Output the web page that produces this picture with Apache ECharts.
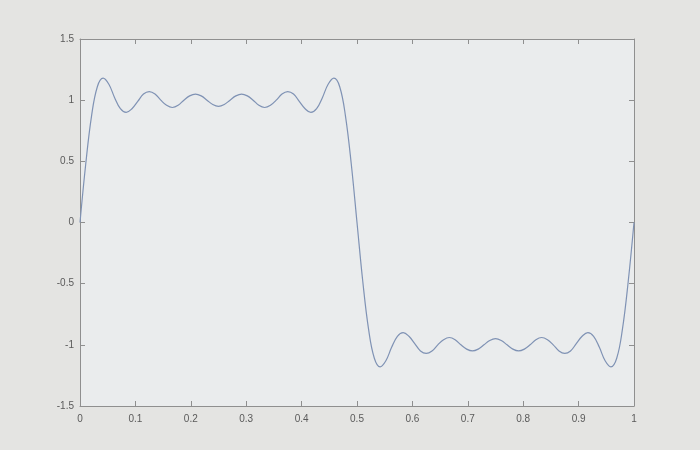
<!DOCTYPE html>
<html>
<head>
<meta charset="utf-8">
<script src="https://cdn.jsdelivr.net/npm/echarts@6/dist/echarts.min.js"></script>
<style>
  html, body { margin: 0; padding: 0; background: #e4e4e2; }
  #chart { width: 700px; height: 450px; }
</style>
</head>
<body>
<div id="chart"></div>
<script>
// sample positions and values
const xs = [0,0.0104,0.0208,0.0313,0.0417,0.0521,0.0625,0.0729,0.0833,0.0938,
            0.1042,0.1146,0.125,0.1354,0.1458,0.1563,0.1667,0.1771,0.1875,0.1979,
            0.2083,0.2188,0.2292,0.2396,0.25,0.2604,0.2708,0.2813,0.2917,0.3021,
            0.3125,0.3229,0.3333,0.3438,0.3542,0.3646,0.375,0.3854,0.3958,0.4063,
            0.4167,0.4271,0.4375,0.4479,0.4583,0.4688,0.4792,0.4896,0.5,
            0.5104,0.5208,0.5313,0.5417,0.5521,0.5625,0.5729,0.5833,0.5938,0.6042,
            0.6146,0.625,0.6354,0.6458,0.6563,0.6667,0.6771,0.6875,0.6979,0.7083,
            0.7188,0.7292,0.7396,0.75,0.7604,0.7708,0.7813,0.7917,0.8021,0.8125,
            0.8229,0.8333,0.8438,0.8542,0.8646,0.875,0.8854,0.8958,0.9063,0.9167,
            0.9271,0.9375,0.9479,0.9583,0.9688,0.9792,0.9896,1];
const ys = [0,0.48,0.87,1.11,1.18,1.13,1.02,0.93,0.90,0.93,
            0.99,1.05,1.07,1.05,1.00,0.958,0.94,0.958,1.00,1.035,
            1.05,1.035,1.00,0.965,0.95,0.965,1.00,1.035,1.05,1.035,
            1.00,0.958,0.94,0.958,1.00,1.05,1.07,1.05,0.99,0.93,
            0.90,0.93,1.02,1.13,1.18,1.11,0.87,0.48,0,
            -0.48,-0.87,-1.11,-1.18,-1.13,-1.02,-0.93,-0.90,-0.93,-0.99,
            -1.05,-1.07,-1.05,-1.00,-0.958,-0.94,-0.958,-1.00,-1.035,-1.05,
            -1.035,-1.00,-0.965,-0.95,-0.965,-1.00,-1.035,-1.05,-1.035,-1.00,
            -0.958,-0.94,-0.958,-1.00,-1.05,-1.07,-1.05,-0.99,-0.93,-0.90,
            -0.93,-1.02,-1.13,-1.18,-1.11,-0.87,-0.48,0];
const xTicks = [0,0.1,0.2,0.3,0.4,0.5,0.6,0.7,0.8,0.9,1];
const yTicks = [-1.5,-1,-0.5,0,0.5,1,1.5];

const pts = xs.map((x, i) => [x, ys[i]]);
const axisColor = '#8f8f8f';
const labelStyle = { color: '#5a5a5a', fontSize: 10, fontFamily: 'Liberation Sans, Arial, sans-serif' };

const chart = echarts.init(document.getElementById('chart'), null, { renderer: 'canvas' });
chart.setOption({
  backgroundColor: '#e4e4e2',
  animation: false,
  grid: { left: 80, right: 66, top: 39, bottom: 44, show: true, backgroundColor: '#eaeced', borderWidth: 0 },
  xAxis: [{
    type: 'value', min: xTicks[0], max: xTicks[xTicks.length - 1], interval: 0.1,
    axisLine: { show: true, onZero: false, lineStyle: { color: axisColor, width: 1 } },
    axisTick: { show: true, inside: true, length: 5, lineStyle: { color: axisColor } },
    axisLabel: Object.assign({ margin: 8, formatter: v => String(+v.toFixed(1)) }, labelStyle),
    splitLine: { show: false }
  }, {
    type: 'value', min: xTicks[0], max: xTicks[xTicks.length - 1], interval: 0.1, position: 'top',
    axisLine: { show: true, onZero: false, lineStyle: { color: axisColor, width: 1 } },
    axisTick: { show: true, inside: true, length: 5, lineStyle: { color: axisColor } },
    axisLabel: { show: false }, splitLine: { show: false }
  }],
  yAxis: [{
    type: 'value', min: yTicks[0], max: yTicks[yTicks.length - 1], interval: 0.5,
    axisLine: { show: true, onZero: false, lineStyle: { color: axisColor, width: 1 } },
    axisTick: { show: true, inside: true, length: 5, lineStyle: { color: axisColor } },
    axisLabel: Object.assign({ margin: 6, formatter: v => String(+v.toFixed(1)) }, labelStyle),
    splitLine: { show: false }
  }, {
    type: 'value', min: yTicks[0], max: yTicks[yTicks.length - 1], interval: 0.5, position: 'right',
    axisLine: { show: true, onZero: false, lineStyle: { color: axisColor, width: 1 } },
    axisTick: { show: true, inside: true, length: 5, lineStyle: { color: axisColor } },
    axisLabel: { show: false }, splitLine: { show: false }
  }],
  series: [{
    type: 'line',
    data: pts,
    xAxisIndex: 0, yAxisIndex: 0,
    smooth: 0.4,
    showSymbol: false,
    lineStyle: { color: '#7f92b4', width: 1.2 }
  }]
});
</script>
</body>
</html>
